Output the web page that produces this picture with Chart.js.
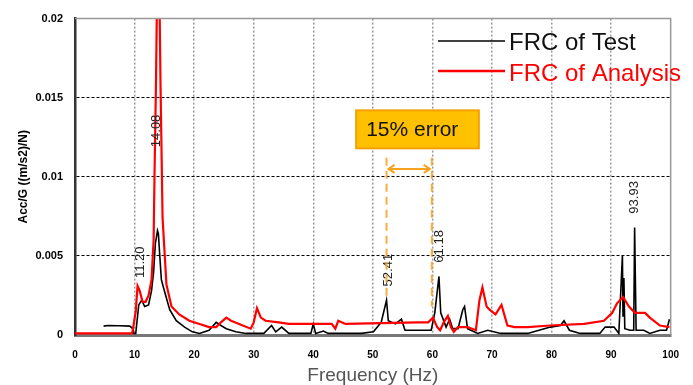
<!DOCTYPE html>
<html>
<head>
<meta charset="utf-8">
<script src="https://cdn.jsdelivr.net/npm/chart.js@4"></script>
<style>
  body { margin: 0; background: #fff; }
  #wrap { width: 693px; height: 385px; }
</style>
</head>
<body>
<div id="wrap"><canvas id="frc" width="693" height="385"></canvas></div>
<script>
// frequency response, test (measured)
const testFreq = [4.8, 5.5, 7.5, 9.2, 9.7, 9.85, 10.2, 10.7, 11.2, 11.7, 12.35, 12.85, 13.2, 13.5, 13.85, 14.0, 14.2, 14.5, 15.0, 15.9,
  17.0, 18.4, 19.7, 20.9, 22.5, 23.7, 24.5, 25.4, 27.0, 28.7, 31.7, 33.0, 33.7, 34.7, 35.9, 39.6, 40.0, 40.4, 41.7, 42.5,
  48.1, 50.1, 51.4, 52.3, 52.6, 53.8, 54.8, 55.4, 59.8, 60.4, 61.1, 61.4, 62.3, 62.9, 63.4, 64.3, 65.1, 65.4, 65.9, 67.6,
  69.3, 71.5, 76.0, 79.8, 81.5, 82.1, 83.0, 84.8, 88.1, 89.0, 90.5, 91.3, 91.9, 92.0, 92.15, 92.3, 93.2, 93.8, 93.95, 94.2,
  95.5, 96.5, 98.2, 99.3, 99.8];
const testAcc = [0.00056, 0.0006, 0.00058, 0.00056, 0.0004, 0.0001, 0.0001, 0.0019, 0.0022, 0.0018, 0.0019, 0.0028, 0.004, 0.0058, 0.0066, 0.0064, 0.0052, 0.0035, 0.0028, 0.0016,
  0.0009, 0.0005, 0.0002, 0.0001, 0.0003, 0.0008, 0.0006, 0.0004, 0.0002, 0.0001, 0.0001, 0.0006, 0.0002, 0.0005, 0.0001, 0.0001, 0.0007, 0.0001, 0.00025, 0.0001,
  0.0001, 0.0002, 0.0008, 0.0022, 0.0009, 0.0007, 0.001, 0.0003, 0.0003, 0.0014, 0.0037, 0.0014, 0.0005, 0.001, 0.0004, 0.0004, 0.0016, 0.0018, 0.0004, 0.0001,
  0.0003, 0.0001, 0.0001, 0.0005, 0.0006, 0.0009, 0.0003, 0.0001, 0.0001, 0.0005, 0.0005, 0.0001, 0.005, 0.0012, 0.0036, 0.0004, 0.0003, 0.0003, 0.0068, 0.0003,
  0.0003, 0.0001, 0.0003, 0.0003, 0.001];

// frequency response, analysis
const analysisFreq = [0, 9.6, 10.2, 10.5, 10.85, 11.35, 11.85, 12.35, 12.85, 13.2, 13.35, 13.6, 13.85, 14.1, 14.35, 14.7, 15.35, 16.2, 17.5, 19.2,
  20.9, 22.5, 23.7, 24.5, 25.4, 26.2, 29.5, 30.0, 30.55, 31.2, 32.0, 34.2, 35.9, 43.1, 43.7, 44.2, 45.4, 57.6, 59.3, 60.1,
  60.8, 61.3, 61.9, 62.6, 63.1, 63.6, 64.3, 65.9, 67.3, 67.9, 68.4, 69.1, 69.6, 70.6, 71.6, 72.6, 73.8, 76.0, 79.8, 85.5,
  88.8, 90.2, 91.0, 92.0, 93.0, 94.0, 95.7, 96.5, 98.2, 99.8];
const analysisAcc = [0.0001, 0.0001, 0.0015, 0.0031, 0.0028, 0.0021, 0.0021, 0.0025, 0.0035, 0.006, 0.0101, 0.016, 0.024, 0.024, 0.016, 0.0074, 0.0032, 0.0018, 0.0013, 0.0009,
  0.0007, 0.0005, 0.0005, 0.0008, 0.0011, 0.0009, 0.0004, 0.0008, 0.0017, 0.0011, 0.0009, 0.0008, 0.0007, 0.0007, 0.0004, 0.0009, 0.0007, 0.0008, 0.0008, 0.0011,
  0.0005, 0.0003, 0.0008, 0.0012, 0.0005, 0.0002, 0.0005, 0.0005, 0.0003, 0.0022, 0.003, 0.0018, 0.0016, 0.0013, 0.0019, 0.0006, 0.0005, 0.0005, 0.0006, 0.0007,
  0.0009, 0.0014, 0.002, 0.0024, 0.0018, 0.0014, 0.0014, 0.0011, 0.0006, 0.0005];

const xTicks = [0, 10, 20, 30, 40, 50, 60, 70, 80, 90, 100];
const yTicks = [0, 0.005, 0.01, 0.015, 0.02];

// peak labels (text, frequency, label centre height)
const peakText = ['11.20', '14.08', '52.41', '61.18', '93.93'];
const peakFreq = [11.0, 13.7, 52.6, 61.1, 94.0];
const peakLabelY = [0.0046, 0.0129, 0.0041, 0.0056, 0.0087];

// 15% error markers
const errorFreq = [52.3, 59.9];

const toPoints = (xs, ys) => xs.map((x, i) => ({ x: x, y: ys[i] }));

const overlay = {
  id: 'overlay',
  afterDatasetsDraw(chart) {
    const { ctx, chartArea: a, scales: { x, y } } = chart;
    ctx.save();

    // top / right frame
    ctx.strokeStyle = '#999';
    ctx.lineWidth = 1.5;
    ctx.beginPath();
    ctx.moveTo(a.left, a.top);
    ctx.lineTo(a.right, a.top);
    ctx.lineTo(a.right, a.bottom);
    ctx.stroke();

    // peak labels
    ctx.fillStyle = '#222';
    ctx.font = '13px "Liberation Sans", Arial, sans-serif';
    ctx.textAlign = 'center';
    ctx.textBaseline = 'middle';
    peakText.forEach((t, i) => {
      ctx.save();
      ctx.translate(x.getPixelForValue(peakFreq[i]), y.getPixelForValue(peakLabelY[i]));
      ctx.rotate(-Math.PI / 2);
      ctx.fillText(t, 0, 0);
      ctx.restore();
    });

    // dashed orange guides
    const xl = x.getPixelForValue(errorFreq[0]);
    const xr = x.getPixelForValue(errorFreq[1]);
    ctx.strokeStyle = 'rgba(247,160,30,0.85)';
    ctx.lineWidth = 2;
    ctx.setLineDash([8, 5]);
    ctx.beginPath();
    ctx.moveTo(xl, y.getPixelForValue(0.0112));
    ctx.lineTo(xl, y.getPixelForValue(0.0022));
    ctx.moveTo(xr, y.getPixelForValue(0.0112));
    ctx.lineTo(xr, y.getPixelForValue(0.0018));
    ctx.stroke();
    ctx.setLineDash([]);

    // double arrow
    const ay = y.getPixelForValue(0.0105);
    ctx.strokeStyle = '#F7A21E';
    ctx.lineWidth = 2;
    ctx.beginPath();
    ctx.moveTo(xl + 2, ay); ctx.lineTo(xr - 2, ay);
    ctx.moveTo(xl + 8, ay - 4); ctx.lineTo(xl + 2, ay); ctx.lineTo(xl + 8, ay + 4);
    ctx.moveTo(xr - 8, ay - 4); ctx.lineTo(xr - 2, ay); ctx.lineTo(xr - 8, ay + 4);
    ctx.stroke();

    // "15% error" box
    const bx0 = x.getPixelForValue(47.2), bx1 = x.getPixelForValue(67.8);
    const by0 = y.getPixelForValue(0.0142), by1 = y.getPixelForValue(0.0118);
    ctx.fillStyle = '#FFC000';
    ctx.fillRect(bx0, by0, bx1 - bx0, by1 - by0);
    ctx.strokeStyle = '#F5A000';
    ctx.lineWidth = 2;
    ctx.strokeRect(bx0, by0, bx1 - bx0, by1 - by0);
    ctx.fillStyle = '#111';
    ctx.font = '21px "Liberation Sans", Arial, sans-serif';
    ctx.textAlign = 'left';
    ctx.fillText('15% error', bx0 + 10, (by0 + by1) / 2 + 1);

    // legend
    ctx.textBaseline = 'alphabetic';
    ctx.font = '24px "Liberation Sans", Arial, sans-serif';
    ctx.strokeStyle = '#000';
    ctx.lineWidth = 1.5;
    ctx.beginPath(); ctx.moveTo(438, 41); ctx.lineTo(505, 41); ctx.stroke();
    ctx.fillStyle = '#111';
    ctx.fillText('FRC of Test', 509, 50);
    ctx.strokeStyle = '#FF0000';
    ctx.lineWidth = 2.5;
    ctx.beginPath(); ctx.moveTo(438, 71); ctx.lineTo(505, 71); ctx.stroke();
    ctx.fillStyle = '#FF0000';
    ctx.fillText('FRC of Analysis', 509, 81);

    ctx.restore();
  }
};

new Chart(document.getElementById('frc'), {
  type: 'line',
  data: {
    datasets: [
      {
        label: 'FRC of Test',
        data: toPoints(testFreq, testAcc),
        borderColor: '#000',
        borderWidth: 1.6,
        pointRadius: 0,
        tension: 0,
        order: 1,
      },
      {
        label: 'FRC of Analysis',
        data: toPoints(analysisFreq, analysisAcc),
        borderColor: '#FF0000',
        borderWidth: 2.2,
        pointRadius: 0,
        tension: 0,
        order: 0,
      },
    ],
  },
  options: {
    responsive: false,
    animation: false,
    devicePixelRatio: 1,
    layout: { padding: { top: 15, right: 19, left: 0, bottom: 0 } },
    plugins: { legend: { display: false }, tooltip: { enabled: false } },
    scales: {
      x: {
        type: 'linear',
        min: 0,
        max: 100,
        afterFit: (s) => { s.height = 50; },
        afterBuildTicks: (s) => { s.ticks = xTicks.map(v => ({ value: v })); },
        ticks: {
          color: '#000',
          font: { family: '"Liberation Sans", Arial, sans-serif', size: 10, weight: 'bold' },
          padding: 14,
          maxRotation: 0,
        },
        grid: {
          drawTicks: false,
          lineWidth: 1.5,
          color: (c) => (c.tick && (c.tick.value === 0 || c.tick.value === 100)) ? 'rgba(0,0,0,0)' : '#9a9a9a',
        },
        border: { color: '#777', width: 3, dash: [2, 2] },
        title: {
          display: true,
          text: 'Frequency (Hz)',
          color: '#555',
          font: { family: '"Liberation Sans", Arial, sans-serif', size: 19, lineHeight: 1 },
          padding: { top: 0, bottom: 0 },
        },
      },
      y: {
        min: 0,
        max: 0.02,
        afterFit: (s) => { s.width = 75; },
        afterBuildTicks: (s) => { s.ticks = yTicks.map(v => ({ value: v })); },
        ticks: {
          color: '#000',
          font: { family: '"Liberation Sans", Arial, sans-serif', size: 11, weight: 'bold' },
          padding: 12,
          callback: (v) => String(+v.toFixed(3)),
        },
        grid: {
          drawTicks: false,
          lineWidth: 1,
          color: (c) => (c.tick && (c.tick.value === 0 || c.tick.value === 0.02)) ? 'rgba(0,0,0,0)' : '#000',
        },
        border: { color: '#333', width: 2.5, dash: [3, 2] },
        title: {
          display: true,
          text: 'Acc/G ((m/s2)/N)',
          color: '#000',
          font: { family: '"Liberation Sans", Arial, sans-serif', size: 12, weight: 'bold', lineHeight: 1.2 },
          padding: { top: 16, bottom: 0 },
        },
      },
    },
  },
  plugins: [overlay],
});
</script>
</body>
</html>
